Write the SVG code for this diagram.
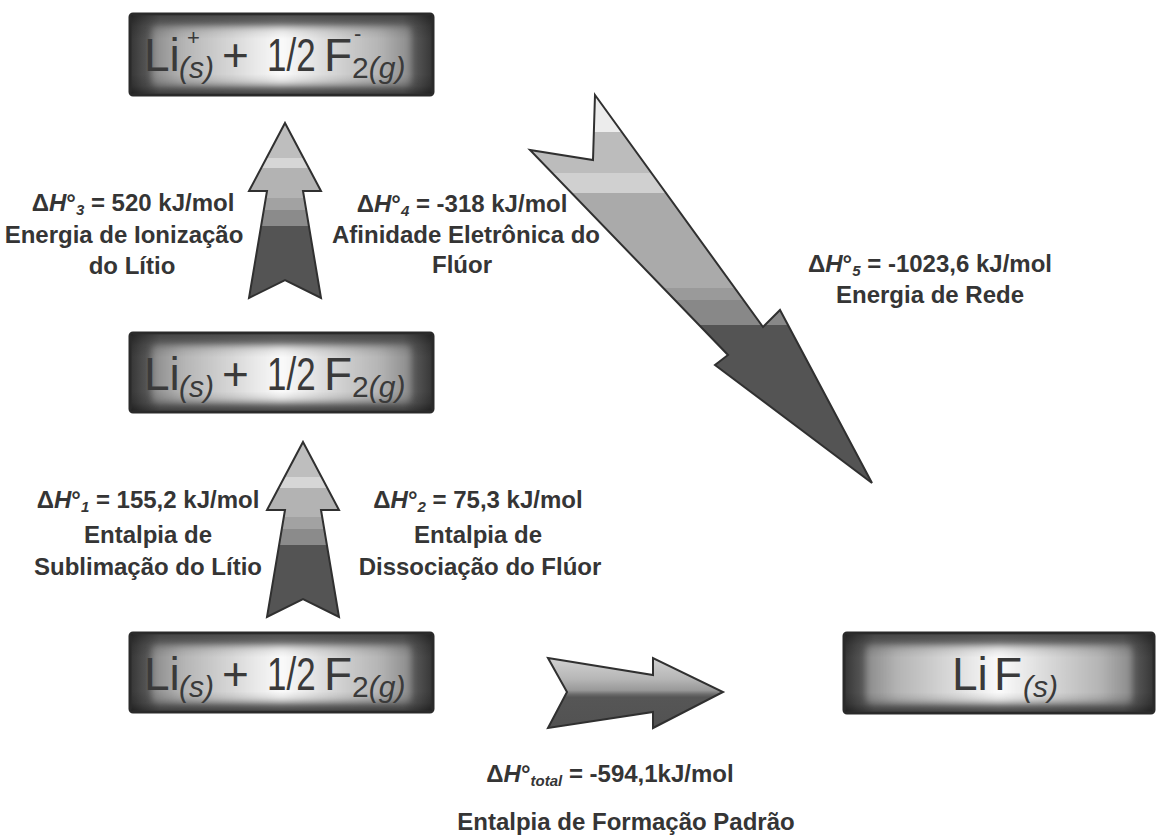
<svg xmlns="http://www.w3.org/2000/svg" width="1156" height="838" viewBox="0 0 1156 838">
<defs>
<style>
.box-outer{fill:url(#boxH);stroke:#2a2a2a;stroke-width:3}
.box-inner{fill:url(#innerH);filter:url(#soft)}
.box-shade{fill:url(#shadeV)}
.bt{font-family:"Liberation Sans",Arial,sans-serif;font-size:46px;fill:#3a3a3a}
.bs{font-size:30px}
.it{font-style:italic}
.sup{font-size:22px}
.lbl{font-family:"Liberation Sans",Arial,sans-serif;font-size:24px;font-weight:bold;fill:#353535;text-anchor:middle}
.sb{font-size:15px;font-style:italic}
.arrow{stroke:#303030;stroke-width:2;stroke-linejoin:miter}
</style>
<linearGradient id="boxH" x1="0" y1="0" x2="1" y2="0">
<stop offset="0" stop-color="#353535"/>
<stop offset="0.04" stop-color="#4c4c4c"/>
<stop offset="0.1" stop-color="#6a6a6a"/>
<stop offset="0.5" stop-color="#7c7c7c"/>
<stop offset="0.9" stop-color="#6a6a6a"/>
<stop offset="0.96" stop-color="#4c4c4c"/>
<stop offset="1" stop-color="#353535"/>
</linearGradient>
<linearGradient id="innerH" x1="0" y1="0" x2="1" y2="0">
<stop offset="0" stop-color="#8a8a8a"/>
<stop offset="0.12" stop-color="#b4b4b4"/>
<stop offset="0.5" stop-color="#fbfbfb"/>
<stop offset="0.88" stop-color="#b4b4b4"/>
<stop offset="1" stop-color="#8a8a8a"/>
</linearGradient>
<linearGradient id="shadeV" x1="0" y1="0" x2="0" y2="1">
<stop offset="0" stop-color="#000" stop-opacity="0.35"/>
<stop offset="0.14" stop-color="#000" stop-opacity="0.12"/>
<stop offset="0.3" stop-color="#000" stop-opacity="0"/>
<stop offset="0.75" stop-color="#000" stop-opacity="0"/>
<stop offset="0.9" stop-color="#000" stop-opacity="0.15"/>
<stop offset="1" stop-color="#000" stop-opacity="0.4"/>
</linearGradient>
<filter id="soft" x="-10%" y="-20%" width="120%" height="140%">
<feGaussianBlur stdDeviation="3"/>
</filter>
<linearGradient id="upG" gradientUnits="userSpaceOnUse" x1="0" y1="0" x2="0" y2="175">
<stop offset="0" stop-color="#bebebe"/>
<stop offset="0.2" stop-color="#bebebe"/>
<stop offset="0.2" stop-color="#d6d6d6"/>
<stop offset="0.26" stop-color="#d6d6d6"/>
<stop offset="0.26" stop-color="#b3b3b3"/>
<stop offset="0.43" stop-color="#b3b3b3"/>
<stop offset="0.43" stop-color="#a2a2a2"/>
<stop offset="0.5" stop-color="#a2a2a2"/>
<stop offset="0.5" stop-color="#8b8b8b"/>
<stop offset="0.59" stop-color="#8b8b8b"/>
<stop offset="0.59" stop-color="#545454"/>
<stop offset="1" stop-color="#545454"/>
</linearGradient>
<linearGradient id="diagG" gradientUnits="userSpaceOnUse" x1="0" y1="95" x2="0" y2="483">
<stop offset="0" stop-color="#ececec"/>
<stop offset="0.095" stop-color="#ececec"/>
<stop offset="0.095" stop-color="#bcbcbc"/>
<stop offset="0.201" stop-color="#bcbcbc"/>
<stop offset="0.201" stop-color="#d0d0d0"/>
<stop offset="0.253" stop-color="#d0d0d0"/>
<stop offset="0.253" stop-color="#aaaaaa"/>
<stop offset="0.497" stop-color="#aaaaaa"/>
<stop offset="0.497" stop-color="#9a9a9a"/>
<stop offset="0.528" stop-color="#9a9a9a"/>
<stop offset="0.528" stop-color="#888888"/>
<stop offset="0.593" stop-color="#888888"/>
<stop offset="0.593" stop-color="#545454"/>
<stop offset="1" stop-color="#545454"/>
</linearGradient>
<linearGradient id="rightG" gradientUnits="userSpaceOnUse" x1="0" y1="658" x2="0" y2="728">
<stop offset="0" stop-color="#d2d2d2"/>
<stop offset="0.3" stop-color="#b6b6b6"/>
<stop offset="0.46" stop-color="#999999"/>
<stop offset="0.52" stop-color="#6a6a6a"/>
<stop offset="0.56" stop-color="#565656"/>
<stop offset="1" stop-color="#525252"/>
</linearGradient>
<path id="upArrow" class="arrow" fill="url(#upG)" d="M0,0 L36,68 L18,68 L36,175 L0,157 L-36,175 L-18,68 L-36,68 Z"/>
</defs>
<rect x="0" y="0" width="1156" height="838" fill="#ffffff"/>

<g id="node-top">
<rect class="box-outer" x="130" y="14" width="303" height="81" rx="3"/>
<rect class="box-inner" x="152" y="26" width="259" height="60" rx="5"/>
<rect class="box-shade" x="131.5" y="15.5" width="300" height="78"/>
<text class="bt" x="144" y="71">Li<tspan class="bs it" x="179" y="78">(s)</tspan><tspan x="222" y="71">+</tspan></text>
<text class="bt" transform="translate(267,71) scale(0.76,1)">1/2</text>
<text class="bt" x="324" y="71">F<tspan class="bs" y="78">2</tspan><tspan class="bs it">(g)</tspan></text>
<text class="bt sup" x="187" y="45">+</text>
<text class="bt sup" x="354" y="41">-</text>
</g>

<g id="node-mid">
<rect class="box-outer" x="130" y="333" width="303" height="79" rx="3"/>
<rect class="box-inner" x="152" y="345" width="259" height="58" rx="5"/>
<rect class="box-shade" x="131.5" y="334.5" width="300" height="76"/>
<text class="bt" x="144" y="390">Li<tspan class="bs it" x="179" y="397">(s)</tspan><tspan x="222" y="390">+</tspan></text>
<text class="bt" transform="translate(267,390) scale(0.76,1)">1/2</text>
<text class="bt" x="324" y="390">F<tspan class="bs" y="397">2</tspan><tspan class="bs it">(g)</tspan></text>
</g>

<g id="node-bottom">
<rect class="box-outer" x="130" y="633" width="303" height="79" rx="3"/>
<rect class="box-inner" x="152" y="645" width="259" height="58" rx="5"/>
<rect class="box-shade" x="131.5" y="634.5" width="300" height="76"/>
<text class="bt" x="144" y="690">Li<tspan class="bs it" x="179" y="697">(s)</tspan><tspan x="222" y="690">+</tspan></text>
<text class="bt" transform="translate(267,690) scale(0.76,1)">1/2</text>
<text class="bt" x="324" y="690">F<tspan class="bs" y="697">2</tspan><tspan class="bs it">(g)</tspan></text>
</g>

<g id="node-lif">
<rect class="box-outer" x="844" y="633" width="310" height="80" rx="3"/>
<rect class="box-inner" x="866" y="645" width="266" height="59" rx="5"/>
<rect class="box-shade" x="845.5" y="634.5" width="307" height="77"/>
<text class="bt" x="952" y="690">Li<tspan x="994" y="690">F</tspan><tspan class="bs it" x="1023" y="697">(s)</tspan></text>
</g>

<g id="connectors">
<use href="#upArrow" transform="translate(285,123)"/>
<use href="#upArrow" transform="translate(303,442)"/>
<path class="arrow" fill="url(#diagG)" d="M595,95 L763,327 L780,310 L872,483 L715,365 L728,355 L530,150 L593,160 Z"/>
<path class="arrow" fill="url(#rightG)" d="M548,658 L653,675 L653,658 L723,692 L653,728 L653,712 L548,728 L567,692 Z"/>
</g>

<g id="labels">
<text class="lbl" x="133" y="211">Δ<tspan font-style="italic">H</tspan>°<tspan class="sb" dy="4">3</tspan><tspan dy="-4"> = 520 kJ/mol</tspan></text>
<text class="lbl" x="124" y="243">Energia de Ionização</text>
<text class="lbl" x="132" y="274">do Lítio</text>

<text class="lbl" x="462" y="212">Δ<tspan font-style="italic">H</tspan>°<tspan class="sb" dy="4">4</tspan><tspan dy="-4"> = -318 kJ/mol</tspan></text>
<text class="lbl" x="466" y="243">Afinidade Eletrônica do</text>
<text class="lbl" x="462" y="273">Flúor</text>

<text class="lbl" x="930" y="272">Δ<tspan font-style="italic">H</tspan>°<tspan class="sb" dy="4">5</tspan><tspan dy="-4"> = -1023,6 kJ/mol</tspan></text>
<text class="lbl" x="930" y="303">Energia de Rede</text>

<text class="lbl" x="148" y="508">Δ<tspan font-style="italic">H</tspan>°<tspan class="sb" dy="4">1</tspan><tspan dy="-4"> = 155,2 kJ/mol</tspan></text>
<text class="lbl" x="148" y="543">Entalpia de</text>
<text class="lbl" x="148" y="575">Sublimação do Lítio</text>

<text class="lbl" x="478" y="508">Δ<tspan font-style="italic">H</tspan>°<tspan class="sb" dy="4">2</tspan><tspan dy="-4"> = 75,3 kJ/mol</tspan></text>
<text class="lbl" x="478" y="543">Entalpia de</text>
<text class="lbl" x="480" y="575">Dissociação do Flúor</text>

<text class="lbl" x="610" y="782">Δ<tspan font-style="italic">H</tspan>°<tspan class="sb" dy="4">total</tspan><tspan dy="-4"> = -594,1kJ/mol</tspan></text>
<text class="lbl" x="626" y="830">Entalpia de Formação Padrão</text>
</g>
</svg>
